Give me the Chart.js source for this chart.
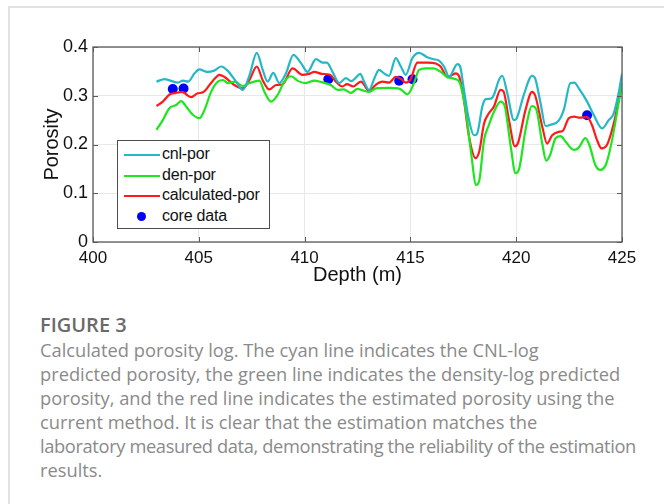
<!DOCTYPE html>
<html>
<head>
<meta charset="utf-8">
<script src="https://cdn.jsdelivr.net/npm/chart.js@4/dist/chart.umd.min.js"></script>
<style>
  html, body { margin: 0; padding: 0; background: #fff; }
  body { width: 664px; height: 504px; position: relative; overflow: hidden; }
  #frame { position: absolute; left: 8px; top: 6px; width: 700px; height: 540px;
           border-top: 2px solid #e2e2e2; border-left: 2px solid #e2e2e2; }
  #wrap { position: absolute; left: 0; top: 0; width: 664px; height: 300px; }
  #legend { position: absolute; left: 117px; top: 140px; width: 153px; height: 89px;
            border: 1px solid #4d4d4d; background: #fff; box-sizing: border-box;
            font-family: "Liberation Sans", Arial, sans-serif; font-size: 16px; color: #111; }
  .row { position: absolute; left: 0; height: 20px; width: 150px; }
  .sw { position: absolute; left: 6px; top: 9px; width: 36px; height: 2px; }
  .dot { position: absolute; left: 19px; top: 5px; width: 9px; height: 9px; border-radius: 50%; }
  .lbl { position: absolute; left: 44px; top: 0px; white-space: nowrap; letter-spacing: -0.2px; }
  #fig { position: absolute; left: 40px; top: 311px; font-family: "Open Sans", Lato, sans-serif;
         font-size: 20px; font-weight: 600; color: #6a6a6a; }
  #cap { position: absolute; left: 40px; top: 338px; width: 624px; font-family: "Open Sans", Lato, sans-serif;
         font-size: 18.3px; line-height: 24px; color: #8a8a8a; white-space: nowrap; }
  #cap .tight { letter-spacing: -0.37px; }
</style>
</head>
<body>
<div id="frame"></div>
<div id="wrap"><canvas id="c" width="664" height="300"></canvas></div>
<div id="legend"></div>
<div id="fig">FIGURE 3</div>
<div id="cap">Calculated porosity log. The cyan line indicates the CNL-log<br>predicted porosity, the green line indicates the density-log predicted<br>porosity, and the red line indicates the estimated porosity using the<br>current method. It is clear that the estimation matches the<br><span class="tight">laboratory measured data, demonstrating the reliability of the estimation</span><br>results.</div>
<script>
// ---------- data ----------
const seriesLabels = ["cnl-por", "den-por", "calculated-por", "core data"];
const xTicks = [400, 405, 410, 415, 420, 425];
const yTicks = [0, 0.1, 0.2, 0.3, 0.4];

const cnlDepth = [403.0,403.38,404.0,404.25,404.5,404.8,405.03,405.4,405.7,406.06,406.37,406.76,407.08,407.39,407.74,408.02,408.25,408.52,408.8,409.12,409.47,409.83,410.14,410.54,410.85,411.05,411.32,411.64,411.95,412.2,412.4,412.63,412.8,413.05,413.3,413.52,413.75,413.99,414.31,414.55,414.78,415.09,415.41,415.8,416.1,416.35,416.59,416.83,417.22,417.35,417.53,417.77,418.0,418.15,418.4,418.56,418.8,418.95,419.18,419.34,419.58,419.89,420.0,420.36,420.75,420.9,421.15,421.39,421.6,422.01,422.25,422.56,422.75,422.96,423.35,423.66,424.06,424.37,424.6,424.84,425.0];
const cnlPor = [.329,.334,.327,.331,.329,.346,.354,.349,.351,.360,.351,.329,.312,.341,.388,.353,.329,.347,.326,.346,.384,.367,.349,.375,.368,.368,.349,.326,.336,.330,.336,.345,.330,.312,.336,.353,.346,.341,.377,.360,.343,.377,.388,.379,.375,.372,.360,.339,.365,.360,.312,.250,.219,.222,.278,.293,.294,.302,.332,.341,.305,.250,.252,.302,.341,.335,.285,.238,.240,.249,.271,.326,.327,.315,.288,.261,.233,.250,.263,.305,.345];

const denDepth = [403.0,403.3,403.6,403.93,404.17,404.4,404.72,405.03,405.27,405.58,405.9,406.15,406.37,406.7,407.08,407.4,407.86,408.1,408.41,408.73,409.04,409.36,409.7,410.06,410.46,410.8,411.24,411.56,411.85,412.19,412.5,412.75,413.05,413.37,414.0,414.5,414.86,415.17,415.41,415.73,416.1,416.43,416.75,417.14,417.35,417.61,417.85,418.11,418.25,418.48,418.71,418.95,419.26,419.45,419.74,419.97,420.15,420.44,420.75,420.95,421.23,421.42,421.6,421.86,422.1,422.35,422.72,422.95,423.27,423.45,423.74,423.98,424.25,424.53,424.84,425.0];
const denPor = [.230,.250,.274,.281,.289,.278,.261,.254,.271,.308,.329,.332,.326,.329,.320,.326,.331,.308,.288,.302,.329,.340,.330,.326,.331,.328,.322,.312,.313,.306,.314,.311,.308,.315,.316,.314,.303,.326,.353,.356,.356,.349,.338,.334,.325,.271,.189,.117,.125,.209,.240,.267,.288,.280,.196,.141,.152,.230,.279,.272,.202,.167,.178,.213,.217,.205,.189,.193,.213,.200,.158,.148,.160,.209,.285,.325];

const calDepth = [403.0,403.3,403.6,403.93,404.25,404.4,404.64,404.95,405.2,405.58,405.98,406.2,406.68,407.08,407.39,407.74,408.02,408.33,408.65,408.95,409.43,409.9,410.2,410.46,410.8,411.2,411.48,411.79,412.0,412.3,412.66,413.05,413.35,413.68,414.0,414.31,414.6,414.78,415.0,415.33,415.8,416.2,416.43,416.75,417.14,417.3,417.53,417.77,418.08,418.25,418.48,418.71,418.95,419.26,419.4,419.66,419.94,420.1,420.44,420.75,420.9,421.23,421.46,421.7,422.0,422.2,422.49,422.75,423.0,423.35,423.58,423.82,424.03,424.3,424.61,424.84,425.0];
const calPor = [.279,.288,.302,.306,.308,.303,.297,.305,.307,.326,.343,.339,.322,.315,.332,.360,.332,.313,.322,.323,.356,.343,.345,.349,.345,.343,.329,.319,.324,.319,.329,.310,.322,.329,.327,.339,.333,.327,.333,.368,.368,.366,.360,.338,.346,.340,.291,.216,.172,.185,.243,.264,.278,.312,.309,.250,.196,.205,.271,.308,.300,.237,.202,.219,.226,.228,.254,.257,.255,.256,.240,.209,.192,.200,.243,.290,.326];

const coreDepth = [403.77, 404.28, 411.12, 414.47, 415.1, 423.35];
const corePor = [0.314, 0.315, 0.334, 0.331, 0.334, 0.260];

const colors = ["#22b8c6", "#1ee61e", "#ff1a1a", "#0000ff"];

const pts = (xs, ys) => xs.map((x, i) => ({x: x, y: ys[i]}));

// ---------- chart ----------
const FONT = "'Liberation Sans', Arial, sans-serif";

const boxPlugin = {
  id: 'box',
  afterDatasetsDraw(chart) {
    const {ctx, chartArea: a, scales: {x, y}} = chart;
    ctx.save();
    ctx.strokeStyle = '#5a5a5a';
    ctx.lineWidth = 1;
    ctx.beginPath();
    xTicks.forEach(v => {
      const px = Math.round(x.getPixelForValue(v)) + 0.5;
      ctx.moveTo(px, a.bottom); ctx.lineTo(px, a.bottom - 5);
      ctx.moveTo(px, a.top); ctx.lineTo(px, a.top + 5);
    });
    yTicks.forEach(v => {
      const py = Math.round(y.getPixelForValue(v)) + 0.5;
      ctx.moveTo(a.left, py); ctx.lineTo(a.left + 5, py);
      ctx.moveTo(a.right, py); ctx.lineTo(a.right - 5, py);
    });
    ctx.stroke();
    ctx.lineWidth = 1.3;
    ctx.strokeRect(a.left, a.top, a.right - a.left, a.bottom - a.top);
    ctx.restore();
  }
};

new Chart(document.getElementById('c'), {
  type: 'line',
  data: {
    datasets: [
      {label: seriesLabels[0], data: pts(cnlDepth, cnlPor), borderColor: colors[0]},
      {label: seriesLabels[1], data: pts(denDepth, denPor), borderColor: colors[1]},
      {label: seriesLabels[2], data: pts(calDepth, calPor), borderColor: colors[2]},
      {label: seriesLabels[3], data: pts(coreDepth, corePor), borderColor: colors[3], backgroundColor: colors[3],
       showLine: false, pointRadius: 5, pointBorderWidth: 0}
    ].map(d => Object.assign({borderWidth: 2.2, pointRadius: 0, cubicInterpolationMode: 'monotone', fill: false}, d))
  },
  options: {
    responsive: false,
    animation: false,
    layout: {padding: {left: 0, top: 47, right: 42, bottom: 0}},
    plugins: {legend: {display: false}, tooltip: {enabled: false}},
    scales: {
      x: {
        type: 'linear', min: 400, max: 425,
        afterFit(s) { s.height = 58; },
        afterBuildTicks(s) { s.ticks = xTicks.map(v => ({value: v})); },
        grid: {color: '#e8e8e8', drawTicks: false},
        border: {display: false},
        ticks: {font: {family: FONT, size: 17}, color: '#111', padding: 6, maxRotation: 0},
        title: {display: true, text: 'Depth (m)', font: {family: FONT, size: 20}, color: '#111', padding: {bottom: 13}}
      },
      y: {
        type: 'linear', min: 0, max: 0.4,
        afterFit(s) { s.width = 93; },
        afterBuildTicks(s) { s.ticks = yTicks.map(v => ({value: v})); },
        grid: {color: '#e8e8e8', drawTicks: false},
        border: {display: false},
        ticks: {font: {family: FONT, size: 18}, color: '#111', padding: 5,
                callback: v => v === 0 ? '0' : v.toFixed(1)},
        title: {display: true, text: 'Porosity', font: {family: FONT, size: 20}, color: '#111', padding: {top: 40}}
      }
    }
  },
  plugins: [boxPlugin]
});

// ---------- legend (HTML) ----------
const lg = document.getElementById('legend');
seriesLabels.forEach((t, i) => {
  const r = document.createElement('div');
  r.className = 'row';
  r.style.top = (4 + i * 20.7) + 'px';
  const m = document.createElement('div');
  if (i < 3) { m.className = 'sw'; m.style.background = colors[i]; }
  else { m.className = 'dot'; m.style.background = colors[i]; }
  const l = document.createElement('div');
  l.className = 'lbl'; l.textContent = t;
  r.appendChild(m); r.appendChild(l); lg.appendChild(r);
});
</script>
</body>
</html>
